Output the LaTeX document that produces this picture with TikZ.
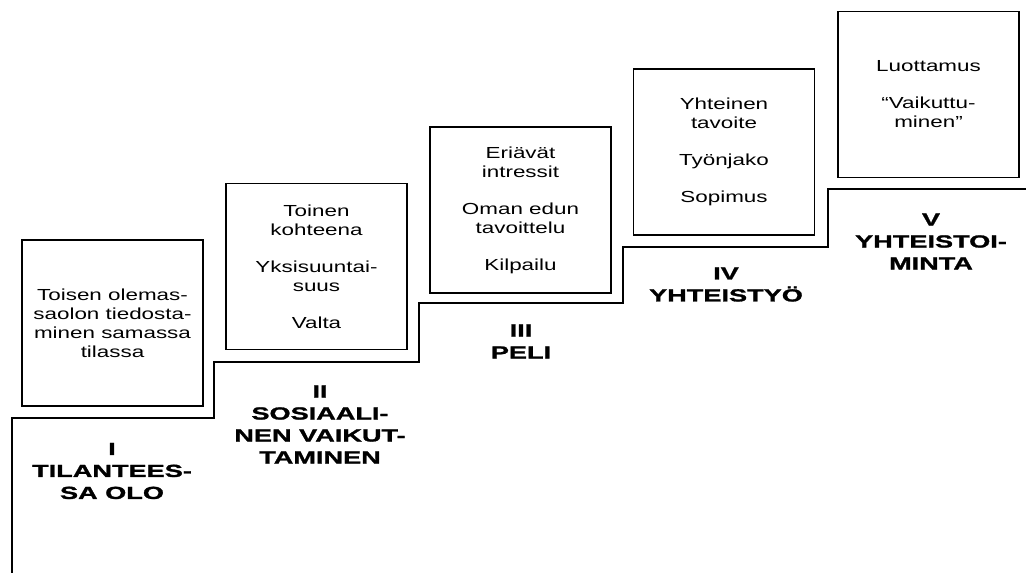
\documentclass[tikz,border=0pt]{standalone}
\usepackage{fontspec}
\setmainfont{Liberation Sans}
\newfontfamily\boxfont{Liberation Sans}[FakeStretch=1.4]
\newfontfamily\stepfont{Liberation Sans Bold}[FakeStretch=1.55,FakeBold=1.5]
\begin{document}
\begin{tikzpicture}[x=1pt, y=1pt,
    stage/.style={draw, line width=1.5pt, minimum width=181pt, minimum height=166pt,
        inner sep=0pt, align=center, font=\boxfont\fontsize{16}{19}\selectfont},
    stagename/.style={align=center, font=\stepfont\fontsize{17.5}{22}\selectfont}]
\useasboundingbox (0,0) rectangle (1026,573);
% the stairs
\draw[line width=1.5pt](12,0)--(12,155)--(214,155)--(214,211)--(419,211)--(419,270)
    --(623,270)--(623,326)--(828,326)--(828,384)--(1026,384);
% boxes on the steps
\node[stage] (b1) at (112.5,250) {Toisen olemas-\\saolon tiedosta-\\minen samassa\\tilassa};
\node[stage] (b2) at (316.5,306.5) {Toinen\\kohteena\\[18pt]Yksisuuntai-\\suus\\[18pt]Valta};
\node[stage] (b3) at (520.5,363) {Eriävät\\intressit\\[18pt]Oman edun\\tavoittelu\\[18pt]Kilpailu};
\node[stage] (b4) at (724,421) {Yhteinen\\tavoite\\[18pt]Työnjako\\[18pt]Sopimus};
\node[stage] (b5) at (928.5,478.5) {Luottamus\\[18pt]“Vaikuttu-\\minen”};
% names of the steps
\node[stagename] (s1) at (112,102) {I\\TILANTEES-\\SA OLO};
\node[stagename] (s2) at (320,148.5) {II\\SOSIAALI-\\NEN VAIKUT-\\TAMINEN};
\node[stagename] (s3) at (521,231.5) {III\\PELI};
\node[stagename] (s4) at (726,288.5) {IV\\YHTEISTYÖ};
\node[stagename] (s5) at (931,331.5) {V\\YHTEISTOI-\\MINTA};
\end{tikzpicture}
\end{document}
